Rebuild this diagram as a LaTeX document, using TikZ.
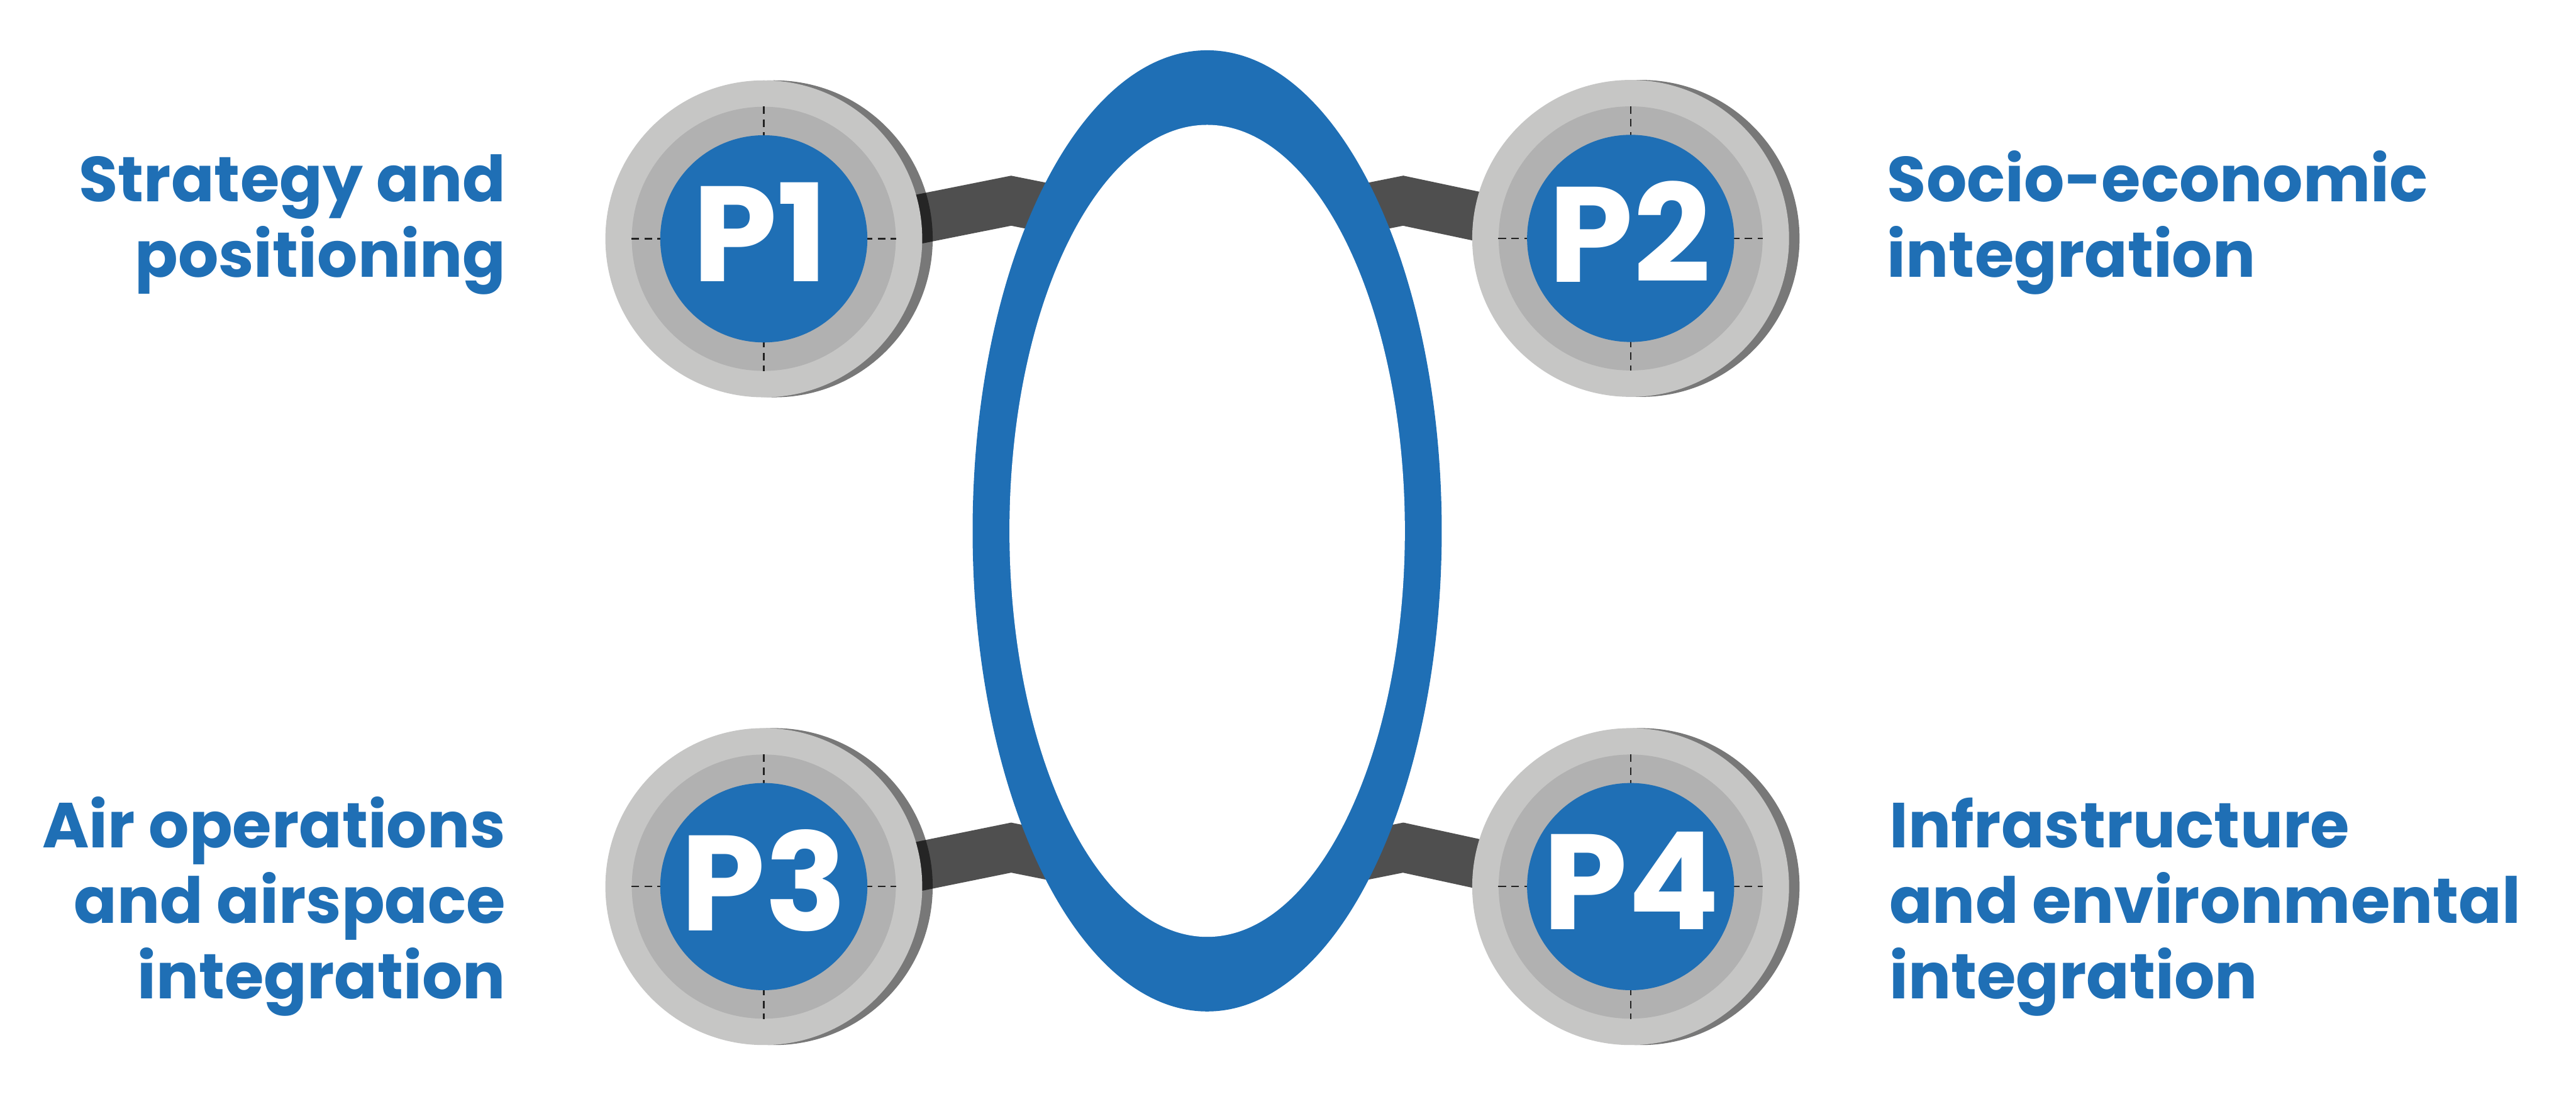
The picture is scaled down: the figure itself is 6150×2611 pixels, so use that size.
\documentclass[tikz,border=0pt]{standalone}
\usepackage{fontspec}
\setmainfont{Poppins}
\usepackage{tikz}
\usetikzlibrary{calc}
\definecolor{pblue}{RGB}{31,111,181}
\definecolor{rimlight}{RGB}{198,198,197}
\definecolor{rimmid}{RGB}{177,177,177}
\definecolor{armgray}{RGB}{79,79,79}
\definecolor{tickdark}{RGB}{34,34,34}

\begin{document}
\begin{tikzpicture}[
  x=0.01cm, y=-0.01cm,
  arm/.style={draw=armgray, line width=33.3pt, line join=miter},
  rimshadow/.style={circle, fill=black, opacity=0.53, minimum size=215.1pt, inner sep=0pt},
  rimouter/.style={circle, fill=rimlight, minimum size=215.1pt, inner sep=0pt},
  rimring/.style={circle, fill=rimmid, minimum size=179.25pt, inner sep=0pt},
  tick/.style={draw=tickdark, line width=1pt, dash pattern=on 5.2pt off 3.6pt},
  core/.style={circle, fill=pblue, minimum size=140.6pt, inner sep=0pt},
  plabel/.style={text=white, inner sep=0pt, font=\fontsize{92}{92}\selectfont\bfseries},
  pillar/.style={text=pblue, inner sep=0pt, font=\fontsize{43.2}{51.2}\selectfont\bfseries},
]
\useasboundingbox (0,0) rectangle (6150,2611);

% =================================================================
% ANCHOR POINTS
% =================================================================
\coordinate (p1) at (1823.5, 570);
\coordinate (p2) at (3893, 569);
\coordinate (p3) at (1823.5, 2116);
\coordinate (p4) at (3893, 2116);
\coordinate (hub) at (2882, 1267);
\coordinate (k1) at (2414, 479);
\coordinate (k2) at (3350, 479);
\coordinate (k3) at (2414, 2023);
\coordinate (k4) at (3350, 2023);

% =================================================================
% ARMS: bent bars from each disc into the ring
% =================================================================
\draw[arm] ($(p1)+(0,27)$) -- (k1) -- ($(k1)+(290,58)$);
\draw[arm] ($(p2)+(0,25)$) -- (k2) -- ($(k2)+(-290,58)$);
\draw[arm] ($(p3)+(0,27)$) -- (k3) -- ($(k3)+(290,58)$);
\draw[arm] ($(p4)+(0,25)$) -- (k4) -- ($(k4)+(-290,58)$);

% =================================================================
% CENTRE RING
% =================================================================
\fill[pblue] (hub) ellipse [x radius=560, y radius=1147];
\fill[white] (hub) ellipse [x radius=472, y radius=969];

% =================================================================
% DISC P1
% =================================================================
\node[rimshadow] (p1s) at ($(p1)+(25,0)$) {};
\node[rimouter] (p1o) at (p1) {};
\node[rimring] (p1m) at (p1) {};
\draw[tick] (p1m.west) -- (p1m.east);
\draw[tick] (p1m.north) -- (p1m.south);
\node[core] (p1c) at (p1) {};
\node[plabel] (p1l) at ($(p1)+(-8,-16)$) {P1};

% =================================================================
% DISC P2
% =================================================================
\node[rimshadow] (p2s) at ($(p2)+(25,0)$) {};
\node[rimouter] (p2o) at (p2) {};
\node[rimring] (p2m) at (p2) {};
\draw[tick] (p2m.west) -- (p2m.east);
\draw[tick] (p2m.north) -- (p2m.south);
\node[core] (p2c) at (p2) {};
\node[plabel] (p2l) at ($(p2)+(-2,-16)$) {P2};

% =================================================================
% DISC P3
% =================================================================
\node[rimshadow] (p3s) at ($(p3)+(25,0)$) {};
\node[rimouter] (p3o) at (p3) {};
\node[rimring] (p3m) at (p3) {};
\draw[tick] (p3m.west) -- (p3m.east);
\draw[tick] (p3m.north) -- (p3m.south);
\node[core] (p3c) at (p3) {};
\node[plabel] (p3l) at ($(p3)+(0,-14)$) {P3};

% =================================================================
% DISC P4
% =================================================================
\node[rimshadow] (p4s) at ($(p4)+(25,0)$) {};
\node[rimouter] (p4o) at (p4) {};
\node[rimring] (p4m) at (p4) {};
\draw[tick] (p4m.west) -- (p4m.east);
\draw[tick] (p4m.north) -- (p4m.south);
\node[core] (p4c) at (p4) {};
\node[plabel] (p4l) at ($(p4)+(2,-14)$) {P4};

% =================================================================
% PILLAR NAMES (base = last line)
% =================================================================
\node[pillar, align=right, anchor=base east] (t1) at (1208, 661)
  {Strategy and\\positioning};
\node[pillar, align=left, anchor=base west] (t2) at (4505, 661)
  {Socio-economic\\integration};
\node[pillar, align=right, anchor=base east] (t3) at (1208, 2384)
  {Air operations\\and airspace\\integration};
\node[pillar, align=left, anchor=base west] (t4) at (4510, 2384)
  {Infrastructure\\and environmental\\integration};

\end{tikzpicture}
\end{document}
